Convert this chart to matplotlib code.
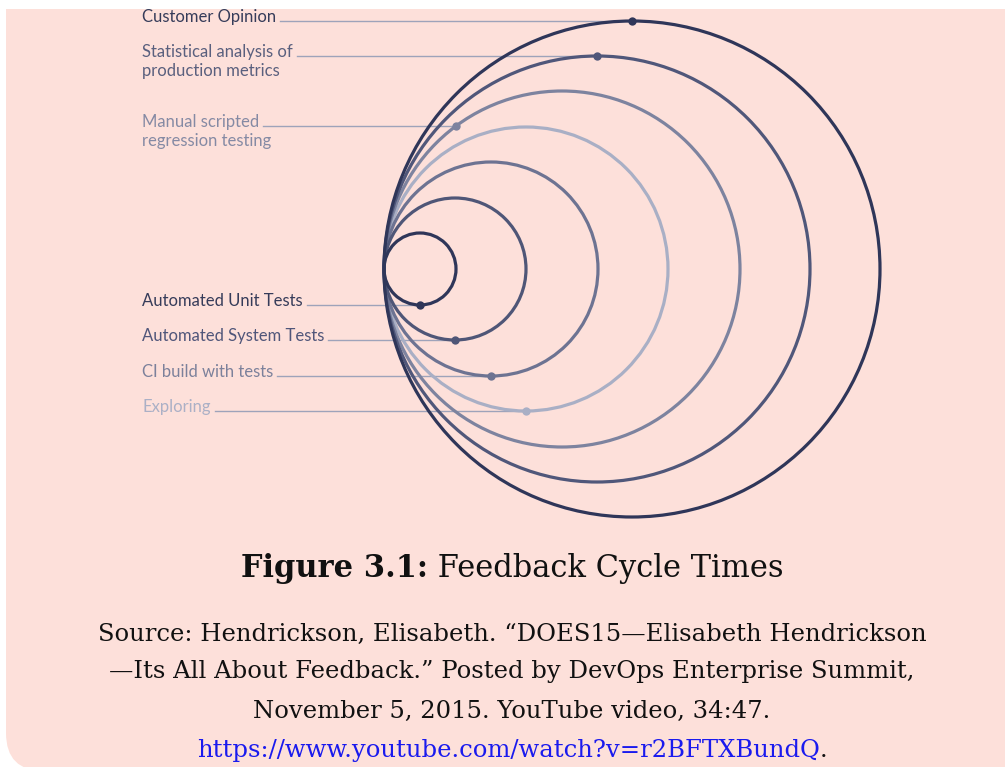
import matplotlib
matplotlib.use('Agg')
import matplotlib.pyplot as plt
import matplotlib.patches as patches
import numpy as np

# Feedback loops, smallest to largest circle.
loopLabels = ['Automated Unit Tests', 'Automated System Tests', 'CI build with tests', 'Exploring',
              'Manual scripted\nregression testing', 'Statistical analysis of\nproduction metrics', 'Customer Opinion']
loopRadii = [36, 71, 107, 142, 178, 213, 248]  # circle radius in pixels
dotAngles = [270, 270, 270, 270, 126.5, 90, 90]  # where the label line meets the circle (degrees)
circleColors = ['#2f3659', '#4f5677', '#6d7392', '#a9afc5', '#7d839f', '#50577a', '#2f3659']
textColors = ['#363c5a', '#50567a', '#7c819b', '#abb0c6', '#858aa4', '#5a607e', '#363c5a']

captionBold = 'Figure 3.1:'
captionRest = ' Feedback Cycle Times'
sourceLines = ['Source: Hendrickson, Elisabeth. \u201cDOES15\u2014Elisabeth Hendrickson',
               '\u2014Its All About Feedback.\u201d Posted by DevOps Enterprise Summit,',
               'November 5, 2015. YouTube video, 34:47.']
sourceUrl = 'https://www.youtube.com/watch?v=r2BFTXBundQ'

W, H = 1005, 767
pink = '#fde0da'

fig = plt.figure(figsize=(W / 100, H / 100), dpi=100)
fig.patch.set_facecolor('white')
ax = fig.add_axes([0, 0, 1, 1])
ax.set_xlim(0, W)
ax.set_ylim(H, 0)
ax.axis('off')

# Background panel with a rounded bottom-left corner (cut by the image edge).
panel = patches.FancyBboxPatch((6, -60), W + 100, 771 + 60, boxstyle='round,pad=0,rounding_size=38',
                               facecolor=pink, edgecolor='none', zorder=0)
ax.add_patch(panel)
ax.add_patch(patches.Rectangle((0, -60), W, 69, facecolor='white', edgecolor='none', zorder=0.5))

# All circles touch at one point on the left.
tangentX, tangentY = 384, 269
fig.canvas.draw()
renderer = fig.canvas.get_renderer()

order = [3, 4, 2, 5, 1, 6, 0]  # light circles underneath
for k, i in enumerate(order):
    r = loopRadii[i]
    cx = tangentX + r
    ax.add_patch(patches.Circle((cx, tangentY), r, fill=False, edgecolor=circleColors[i],
                                linewidth=2.3, zorder=3 + k * 0.01))

for i, label in enumerate(loopLabels):
    r = loopRadii[i]
    cx = tangentX + r
    a = np.deg2rad(dotAngles[i])
    dx = cx + r * np.cos(a)
    dy = tangentY - r * np.sin(a)
    ax.plot([dx], [dy], marker='o', markersize=6, color=circleColors[i], markeredgewidth=0, zorder=5)

    parts = label.split('\n')
    firstText = None
    for j, part in enumerate(parts):
        t = ax.text(142, dy + 1 + j * 19, part, fontsize=12, family='Lato', color=textColors[i],
                    ha='left', va='baseline', zorder=4)
        if j == 0:
            firstText = t
    bb = firstText.get_window_extent(renderer)
    ax.plot([bb.x1 + 4, dx], [dy, dy], color='#9ea3ba', linewidth=1.0, zorder=2)

# Caption.
serif = 'DejaVu Serif'
tb = ax.text(0, 577, captionBold, fontsize=22, family=serif, weight='bold', color='#111111', va='baseline')
tr = ax.text(0, 577, captionRest, fontsize=22, family=serif, color='#111111', va='baseline')
wb = tb.get_window_extent(renderer).width
wr = tr.get_window_extent(renderer).width
x0 = 512 - (wb + wr) / 2
tb.set_x(x0)
tr.set_x(x0 + wb)

for k, line in enumerate(sourceLines):
    ax.text(512, [641, 678, 718][k], line, fontsize=17.5, family=serif, color='#111111', ha='center', va='baseline')

tu = ax.text(0, 757, sourceUrl, fontsize=17.5, family=serif, color='#1a1aee', va='baseline')
td = ax.text(0, 757, '.', fontsize=17.5, family=serif, color='#111111', va='baseline')
wu = tu.get_window_extent(renderer).width
wd = td.get_window_extent(renderer).width
x0 = 512 - (wu + wd) / 2
tu.set_x(x0)
td.set_x(x0 + wu)

fig.savefig('out.png', dpi=100, facecolor='white')
